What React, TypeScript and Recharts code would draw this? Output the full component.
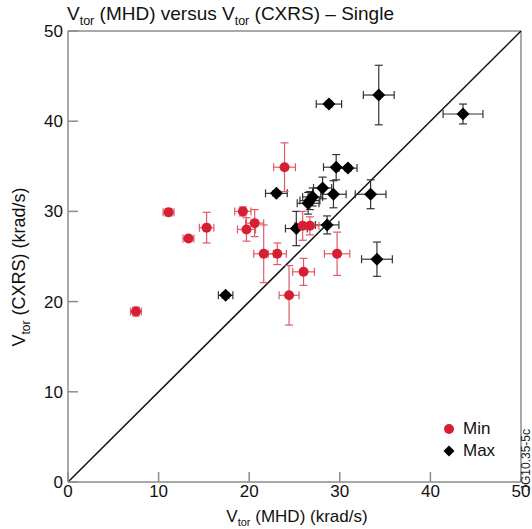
import React from 'react';
import {
    ScatterChart, Scatter, XAxis, YAxis, ErrorBar, ReferenceLine, Legend
} from 'recharts';

// Min (red circles)
const minX = [7.5, 11.1, 15.3, 13.3, 19.3, 20.6, 19.7, 21.6, 23.1, 23.9, 24.4, 26.0, 25.9, 26.7, 29.7];
const minY = [18.9, 29.9, 28.2, 27.0, 30.0, 28.7, 28.0, 25.3, 25.3, 34.9, 20.7, 23.3, 28.4, 28.4, 25.3];
const minEx = [0.6, 0.6, 0.8, 0.6, 0.9, 1.0, 1.0, 1.1, 1.0, 1.2, 1.1, 1.2, 0.9, 1.0, 1.4];
const minEy = [0.5, 0.4, 1.7, 0.3, 0.5, 1.5, 1.3, 3.2, 1.2, 2.7, 3.3, 1.5, 1.6, 1.0, 2.4];

// Max (black diamonds)
const maxX = [17.4, 23.0, 25.2, 26.5, 26.7, 27.0, 28.1, 28.6, 28.8, 29.3, 29.6, 30.9, 33.4, 34.1, 34.3, 43.6];
const maxY = [20.7, 32.0, 28.1, 30.9, 31.2, 31.6, 32.6, 28.5, 41.9, 31.9, 34.9, 34.8, 31.9, 24.7, 42.9, 40.8];
const maxEx = [0.8, 1.2, 1.2, 1.2, 1.1, 1.1, 1.0, 1.3, 1.4, 1.4, 1.4, 1.0, 1.7, 1.7, 1.7, 2.2];
const maxEy = [0.3, 0.3, 1.9, 1.2, 1.0, 1.0, 1.2, 1.0, 0.3, 1.5, 1.4, 0.3, 1.6, 1.9, 3.3, 1.1];

const TICKS = [0, 10, 20, 30, 40, 50];

const RED = '#d71f33';
const RED_BAR = '#e05a6a';
const FRAME = '#8c8c8c';
const FONT = '"Liberation Sans", Arial, Helvetica, sans-serif';

const minData = minX.map((x, i) => ({ x, y: minY[i], ex: minEx[i], ey: minEy[i] }));
const maxData = maxX.map((x, i) => ({ x, y: maxY[i], ex: maxEx[i], ey: maxEy[i] }));

const Dot = (props: any) => <circle cx={props.cx} cy={props.cy} r={5} fill={RED} />;
const Diamond = (props: any) => {
    const { cx, cy } = props;
    const r = 6.5;
    return <polygon points={`${cx},${cy - r} ${cx + r},${cy} ${cx},${cy + r} ${cx - r},${cy}`} fill="#000" />;
};

const Sub = ({ children, size }: { children: React.ReactNode; size: number }) => (
    <span style={{ fontSize: size, position: 'relative', top: size * 0.4 }}>{children}</span>
);

const LegendBox = () => (
    <div style={{ fontFamily: FONT, fontSize: 17, color: '#111' }}>
        <div style={{ display: 'flex', alignItems: 'center', height: 22 }}>
            <svg width={16} height={16}><circle cx={8} cy={8} r={5} fill={RED} /></svg>
            <span style={{ marginLeft: 6 }}>Min</span>
        </div>
        <div style={{ display: 'flex', alignItems: 'center', height: 22 }}>
            <svg width={16} height={16}><polygon points="8,2.5 13.5,8 8,13.5 2.5,8" fill="#000" /></svg>
            <span style={{ marginLeft: 6 }}>Max</span>
        </div>
    </div>
);

export default function App() {
    return (
        <div style={{ position: 'absolute', left: 0, top: 0, width: 532, height: 529, background: '#fff', fontFamily: FONT }}>
            <ScatterChart width={532} height={529} margin={{ top: 31, right: 11, left: 0, bottom: 0 }}>
                <XAxis
                    type="number"
                    dataKey="x"
                    domain={[0, 50]}
                    ticks={TICKS}
                    height={47}
                    tickSize={-10}
                    tickMargin={13}
                    stroke={FRAME}
                    strokeWidth={1.5}
                    tick={{ fontSize: 17, fill: '#111', fontFamily: FONT }}
                    allowDataOverflow
                />
                <YAxis
                    type="number"
                    dataKey="y"
                    domain={[0, 50]}
                    ticks={TICKS}
                    width={68}
                    tickSize={-10}
                    tickMargin={15}
                    stroke={FRAME}
                    strokeWidth={1.5}
                    tick={{ fontSize: 17, fill: '#111', fontFamily: FONT }}
                    allowDataOverflow
                />
                <ReferenceLine y={50} stroke={FRAME} strokeWidth={1.5} />
                <ReferenceLine x={50} stroke={FRAME} strokeWidth={1.5} />
                <ReferenceLine segment={[{ x: 0, y: 0 }, { x: 50, y: 50 }]} stroke="#111" strokeWidth={1.5} />
                <Scatter name="Max" data={maxData} shape={Diamond} isAnimationActive={false}>
                    <ErrorBar dataKey="ex" direction="x" width={4} stroke="#333" strokeWidth={1.2} isAnimationActive={false} />
                    <ErrorBar dataKey="ey" direction="y" width={4} stroke="#333" strokeWidth={1.2} isAnimationActive={false} />
                </Scatter>
                <Scatter name="Min" data={minData} shape={Dot} isAnimationActive={false}>
                    <ErrorBar dataKey="ex" direction="x" width={4} stroke={RED_BAR} strokeWidth={1.2} isAnimationActive={false} />
                    <ErrorBar dataKey="ey" direction="y" width={4} stroke={RED_BAR} strokeWidth={1.2} isAnimationActive={false} />
                </Scatter>
                <Legend
                    layout="vertical"
                    align="center"
                    verticalAlign="middle"
                    content={<LegendBox />}
                    wrapperStyle={{ left: 441, top: 418, width: 80 }}
                />
            </ScatterChart>

            <div style={{ position: 'absolute', left: 67, top: 2, fontSize: 19, color: '#111', whiteSpace: 'nowrap', lineHeight: '24px' }}>
                V<Sub size={12.5}>tor</Sub> (MHD) versus V<Sub size={12.5}>tor</Sub> (CXRS) – Single
            </div>
            <div style={{ position: 'absolute', left: 0, width: 600, marginLeft: -3, top: 506, textAlign: 'center', fontSize: 17, color: '#111', whiteSpace: 'nowrap', lineHeight: '22px' }}>
                V<Sub size={11}>tor</Sub> (MHD) (krad/s)
            </div>
            <div style={{ position: 'absolute', left: 20, top: 266, width: 0, height: 0 }}>
                <div style={{ position: 'absolute', left: -150, top: -11, width: 300, textAlign: 'center', transform: 'rotate(-90deg)', fontSize: 18, color: '#111', whiteSpace: 'nowrap', lineHeight: '22px' }}>
                    V<Sub size={12}>tor</Sub> (CXRS) (krad/s)
                </div>
            </div>
            <div style={{ position: 'absolute', left: 526, top: 460, width: 0, height: 0 }}>
                <div style={{ position: 'absolute', left: -45, top: -7, width: 90, textAlign: 'center', transform: 'rotate(-90deg)', fontSize: 12, color: '#222', whiteSpace: 'nowrap', lineHeight: '14px' }}>
                    JG10.35-5c
                </div>
            </div>
        </div>
    );
}
